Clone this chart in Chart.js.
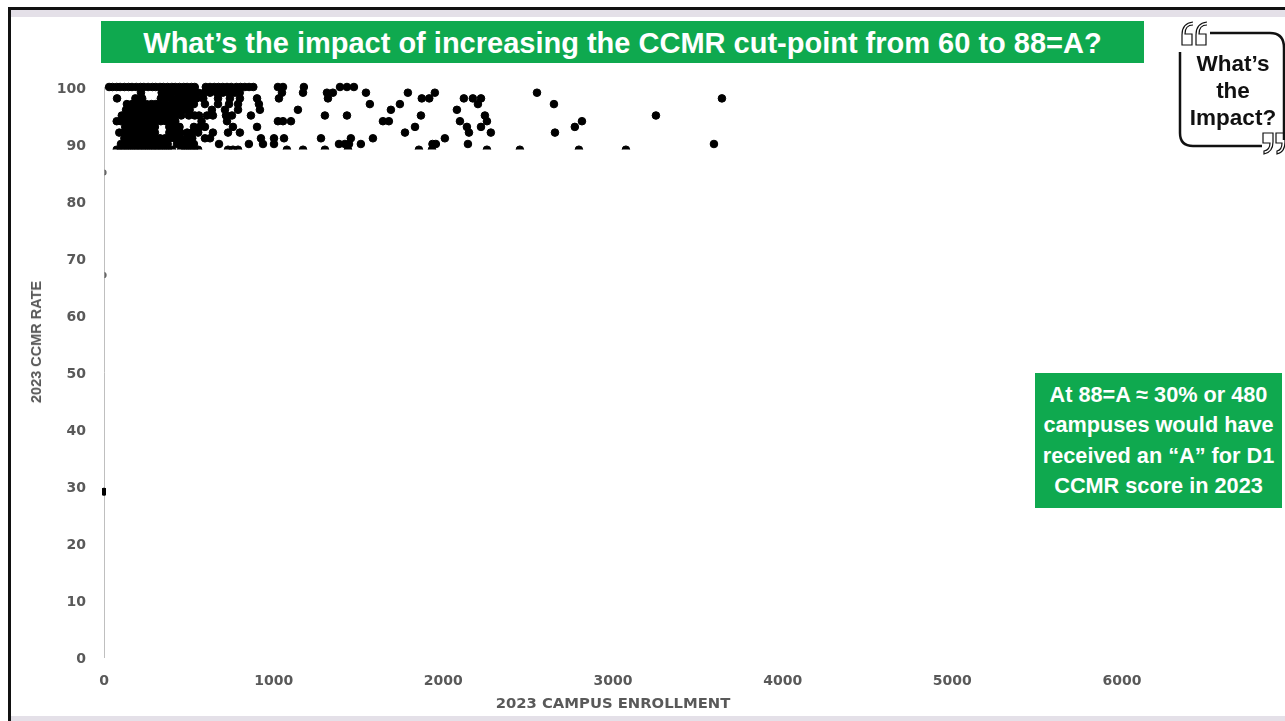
<!DOCTYPE html>
<html>
<head>
<meta charset="utf-8">
<script src="https://cdn.jsdelivr.net/npm/chart.js@4"></script>
<style>
    html, body { margin: 0; padding: 0; background: #fff; overflow: hidden; }
    #page { position: relative; width: 1285px; height: 721px; font-family: "Liberation Sans", Arial, sans-serif; }
    #myChart { position: absolute; left: 0; top: 0; }
    .frameTop { position: absolute; left: 8px; top: 7px; width: 1277px; height: 3px; background: #111; }
    .frameLeft { position: absolute; left: 8px; top: 7px; width: 3px; height: 714px; background: #111; }
    .bandTop { position: absolute; left: 11px; top: 10px; width: 1274px; height: 7px; background: #e4e0e8; }
    .bandBottom { position: absolute; left: 11px; top: 716px; width: 1274px; height: 5px; background: #e4e0e8; }
    #title { position: absolute; left: 101px; top: 21px; width: 1043px; height: 42px; line-height: 44px; background: #0fa94f; color: #fff; font-weight: bold; font-size: 29px; text-align: center; white-space: nowrap; }
    #callout { position: absolute; left: 1035px; top: 373px; width: 247px; height: 135px; background: #0fa94f; color: #fff; font-weight: bold; font-size: 21.7px; line-height: 30.3px; text-align: center; padding-top: 7px; box-sizing: border-box; white-space: nowrap; }
    #badge { position: absolute; left: 1180px; top: 50px; width: 106px; color: #111; font-weight: bold; font-size: 22.5px; line-height: 27px; text-align: center; }
    #badgeFrame { position: absolute; left: 1170px; top: 15px; }
    #yTitle { position: absolute; left: 36px; top: 342px; color: #595959; font-weight: bold; font-size: 14.5px; white-space: nowrap; transform: translate(-50%, -50%) rotate(-90deg); }
</style>
</head>
<body>
<div id="page">
    <div class="bandTop"></div>
    <div class="bandBottom"></div>
    <canvas id="myChart" width="1285" height="721"></canvas>
    <div class="frameTop"></div>
    <div class="frameLeft"></div>
    <div id="title">What’s the impact of increasing the CCMR cut-point from 60 to 88=A?</div>
    <div id="yTitle">2023 CCMR RATE</div>
    <div id="callout">At 88=A ≈ 30% or 480<br>campuses would have<br>received an “A” for D1<br>CCMR score in 2023</div>
    <svg id="badgeFrame" width="115" height="140" fill="none" stroke="#111">
        <path d="M10 37 V118 Q10 131 23 131 H92" stroke-width="2.5"/>
        <path d="M40 18 H100 Q114 18 114 33 V125" stroke-width="2.5"/>
        <path d="M23 7 Q12 8 12 20 V30 H22 V19 H15 Q15 10 23 10" stroke-width="1.2"/>
        <path d="M37 7 Q26 8 26 20 V30 H36 V19 H29 Q29 10 37 10" stroke-width="1.2"/>
        <path d="M93 118 H103 V127 Q103 137 94 139 V136 Q100 135 100 128 H93 Z" stroke-width="1.2"/>
        <path d="M106 118 H115 V127 Q115 137 107 139 V136 Q112 135 112 128 H106 Z" stroke-width="1.2"/>
    </svg>
    <div id="badge">What’s<br>the<br>Impact?</div>
</div>
<script>
const ctx = document.getElementById('myChart').getContext('2d');

// Tick labels
const xTicks = [0, 1000, 2000, 3000, 4000, 5000, 6000];
const yTicks = [0, 10, 20, 30, 40, 50, 60, 70, 80, 90, 100];

// Enrollment of each campus, one list per CCMR rate
const rates = [100, 99, 98, 97, 96, 95, 94, 93, 92, 91, 90, 89];
const rate100 = [30, 50, 75, 95, 120, 145, 165, 190, 215, 235, 260, 285, 305, 330, 350, 375, 400, 420, 445, 470, 490, 515, 535, 600, 625, 650, 675, 700, 725, 750, 780, 805, 830, 855, 880, 1025, 1055, 1178, 1391, 1432, 1473];
const rate99 = [218, 340, 370, 395, 430, 455, 490, 525, 555, 590, 625, 665, 700, 735, 770, 800, 1049, 1173, 1314, 1349, 1544, 1791, 1950, 2552];
const rate98 = [77, 185, 225, 335, 365, 400, 440, 470, 510, 545, 585, 672, 742, 801, 902, 1031, 1320, 1873, 1917, 2121, 2174, 2222, 3642];
const rate97 = [135, 165, 195, 225, 250, 280, 305, 340, 365, 400, 430, 460, 495, 530, 595, 672, 737, 790, 913, 1567, 1744, 2204, 2652];
const rate96 = [130, 160, 190, 220, 255, 285, 315, 345, 375, 405, 440, 480, 505, 636, 713, 790, 919, 1143, 1691, 2080];
const rate95 = [105, 130, 155, 185, 210, 240, 270, 300, 325, 360, 390, 420, 455, 500, 535, 560, 607, 642, 719, 754, 866, 1302, 1432, 1868, 2245, 3253];
const rate94 = [75, 100, 130, 160, 185, 215, 245, 275, 305, 335, 365, 390, 420, 575, 725, 1025, 1055, 1102, 1644, 1679, 2098, 2257, 2817];
const rate93 = [125, 155, 185, 215, 245, 275, 300, 385, 415, 445, 530, 565, 595, 760, 902, 1833, 2139, 2222, 2775];
const rate92 = [90, 120, 150, 180, 210, 240, 270, 300, 385, 415, 450, 490, 520, 555, 642, 731, 801, 1774, 2151, 2280, 2658];
const rate91 = [120, 150, 180, 210, 240, 270, 300, 330, 360, 390, 420, 450, 485, 520, 595, 625, 925, 1002, 1061, 1279, 1455, 1585, 2009];
const rate90 = [100, 125, 155, 180, 205, 235, 260, 290, 320, 345, 375, 430, 465, 500, 530, 678, 854, 937, 1002, 1385, 1420, 1444, 1514, 1936, 1956, 2145, 3595];
const rate89 = [75, 100, 125, 150, 175, 200, 225, 250, 275, 300, 325, 350, 375, 400, 455, 480, 505, 530, 555, 731, 760, 790, 1078, 1173, 1302, 1438, 1856, 1933, 2257, 2451, 2799, 3076];
const enrollmentByRate = [rate100, rate99, rate98, rate97, rate96, rate95, rate94, rate93, rate92, rate91, rate90, rate89];

// The campuses sitting on the axis further down
const axisRates = [85, 67];
const axisEnrollment = [0, 0];
const lowRates = [29];
const lowEnrollment = [0];

const mainPoints = [];
rates.forEach((rate, i) => {
    enrollmentByRate[i].forEach((enrollment) => mainPoints.push({ x: enrollment, y: rate }));
});
const axisPoints = axisRates.map((rate, i) => ({ x: axisEnrollment[i], y: rate }));
const lowPoints = lowRates.map((rate, i) => ({ x: lowEnrollment[i], y: rate }));

const greyText = '#595959';
const tickFont = { family: '"DejaVu Sans"', size: 14, weight: 'bold' };

new Chart(ctx, {
    type: 'scatter',
    data: {
        datasets: [{
            label: 'Campuses',
            data: mainPoints,
            backgroundColor: '#000',
            borderColor: '#000',
            pointRadius: 3.8,
            // Only the part of the cloud above the 89 row is shown
            clip: { left: 5, top: 5, right: 5, bottom: -507.5 },
        }, {
            label: 'Axis campuses',
            data: axisPoints,
            backgroundColor: '#666',
            borderColor: '#666',
            pointRadius: 2.6,
            clip: { left: -0.5, top: 5, right: -1015.5, bottom: 5 },
        }, {
            label: 'Low campus',
            data: lowPoints,
            backgroundColor: '#000',
            borderColor: '#000',
            pointRadius: 3.6,
            clip: { left: 2, top: 5, right: -1016, bottom: 5 },
        }],
    },
    options: {
        responsive: false,
        animation: false,
        layout: { padding: { left: 0, top: 87, right: 163, bottom: 0 } },
        scales: {
            x: {
                type: 'linear',
                min: 0,
                max: 6000,
                afterBuildTicks: (scale) => { scale.ticks = xTicks.map((v) => ({ value: v })); },
                afterFit: (scale) => { scale.height = 64; },
                grid: { display: false },
                border: { display: false },
                ticks: { color: greyText, font: tickFont, padding: 8, maxRotation: 0, callback: (v) => String(v) },
                title: {
                    display: true,
                    text: '2023 CAMPUS ENROLLMENT',
                    color: greyText,
                    font: { family: '"DejaVu Sans"', size: 14.8, weight: 'bold' },
                    padding: { top: 0, bottom: 8 },
                },
            },
            y: {
                type: 'linear',
                min: 0,
                max: 100,
                afterBuildTicks: (scale) => { scale.ticks = yTicks.map((v) => ({ value: v })); },
                afterFit: (scale) => { scale.width = 104; },
                grid: { display: false, drawTicks: false },
                border: { display: true, color: '#bfbfbf', width: 1 },
                // second line of the label sits 2px lower, as in the picture
                ticks: {
                    color: greyText,
                    font: { family: '"DejaVu Sans"', size: 14, weight: 'bold', lineHeight: '4px' },
                    padding: 18,
                    callback: (v) => ['', String(v)],
                },
            },
        },
        plugins: {
            legend: { display: false },
            tooltip: { enabled: false },
        },
    },
});
</script>
</body>
</html>
